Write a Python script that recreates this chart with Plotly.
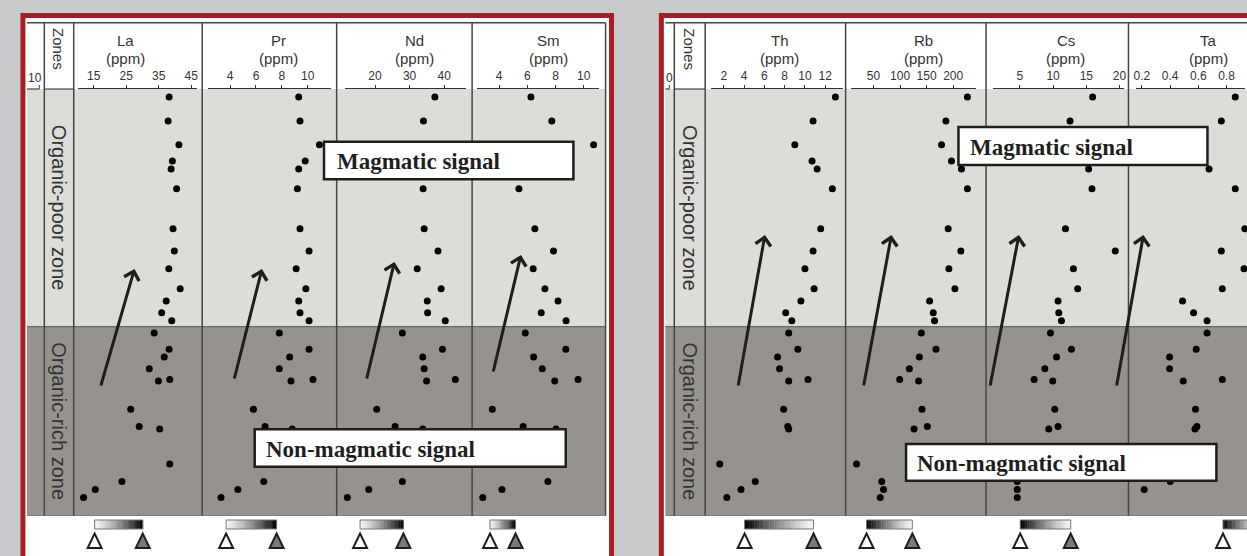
import plotly.graph_objects as go

W, H = 1247, 556

# ------------------------------------------------------------------ data
# relative sample depth (0 = top of section, 100 = base of plotted section)
depth = [1.87, 7.50, 13.05, 16.87, 18.75, 23.37, 32.76, 37.97, 42.14, 46.82,
         49.66, 52.45, 54.32, 57.18, 60.98, 62.81, 65.55, 68.43, 68.06, 75.04,
         79.10, 79.68, 87.88, 91.96, 93.88, 95.76]
zone_boundary = 55.7   # organic-poor / organic-rich boundary (relative depth)

la = [38.2, 37.9, 41.2, 39.2, 38.8, 40.5, 39.4, 39.8, 38.1, 41.6, 37.3, 35.9, 39.0,
      33.6, 38.2, 36.7, 32.1, 34.9, 38.4, 26.4, 29.0, 35.3, 38.4, 23.7, 15.5, 11.9]
pr = [9.3, 9.4, 10.9, 9.8, 9.3, 9.2, 9.4, 10.1, 9.1, 9.85, 9.3, 9.4, 10.1,
      7.8, 10.1, 8.6, 7.8, 8.7, 10.4, 5.8, 6.7, 8.8, 6.5, 6.6, 4.6, 3.3]
nd = [37.3, 34.0, 33.0, 34.0, 33.0, 33.9, 34.2, 38.2, 32.2, 39.1, 35.1, 35.2, 40.3,
      27.9, 39.5, 33.8, 34.2, 34.9, 43.2, 20.5, 25.8, 33.8, 30.0, 27.9, 18.2, 12.0]
sm = [6.26, 7.74, 10.7, 7.0, 6.8, 5.41, 6.54, 7.86, 6.42, 7.25, 8.18, 6.99, 8.75,
      5.86, 8.73, 6.45, 7.06, 7.95, 9.6, 3.53, 5.71, 8.04, 7.5, 7.46, 4.21, 2.85]
th = [13.0, 10.8, 9.0, 10.7, 11.2, 12.7, 11.55, 10.8, 10.0, 10.9, 9.6, 8.1, 8.7,
      8.4, 9.3, 7.3, 7.5, 8.4, 10.3, 7.9, 8.3, 8.4, 1.6, 5.1, 3.7, 2.3]
rb = [226.8, 186.3, 178.1, 196.8, 215.6, 226.8, 190.6, 214.4, 191.9, 203.2, 155.6, 162.5, 164.9,
      140.0, 167.6, 136.3, 117.5, 134.9, 99.3, 141.3, 151.3, 126.3, 18.1, 65.6, 68.8, 62.6]
cs = [15.95, 12.55, 14.0, 15.0, 15.35, 15.85, 11.86, 19.36, 13.06, 13.7, 10.74, 10.85, 11.26,
      9.6, 12.76, 10.51, 8.75, 9.95, 7.15, 10.25, 10.74, 9.35, 4.5, 4.6, 4.6, 4.6]
ta = [0.862, 0.763, 0.60, 0.62, 0.676, 0.862, 0.93, 0.763, 0.924, 0.770, 0.488, 0.566, 0.662,
      0.662, 0.585, 0.396, 0.396, 0.493, 0.770, 0.580, 0.590, 0.576, 0.50, 0.401, 0.216, None]

elements = ["La", "Pr", "Nd", "Sm", "Th", "Rb", "Cs", "Ta"]
values = [la, pr, nd, sm, th, rb, cs, ta]
tick_values = [[15, 25, 35, 45], [4, 6, 8, 10], [20, 30, 40], [4, 6, 8, 10],
               [2, 4, 6, 8, 10, 12], [50, 100, 150, 200], [5, 10, 15, 20], [0.2, 0.4, 0.6, 0.8]]
unit = "(ppm)"
zone_names = ["Organic-poor zone", "Organic-rich zone"]
signal_labels = ["Magmatic signal", "Non-magmatic signal"]

# ------------------------------------------------------------------ layout helpers
def px(x):
    return x / W


def py(y):
    return 1 - y / H


# axis pixel extents and value ranges (layout)
axis_px = [(75, 194.5), (205.5, 328.9), (343, 464.4), (476.3, 598.8),
           (711, 843.4), (851.3, 977), (994.4, 1126), (1138, 1247)]
axis_range = [(10.10, 46.68), (2.27, 11.76), (11.22, 46.16), (2.47, 11.11),
              (0.754, 13.75), (7.43, 243.1), (1.01, 20.75), (0.161, 0.931)]
title_x = [123.3, 276.7, 413, 547.4, 780, 924, 1067, 1210]

PLOT_TOP, PLOT_BOT = 89, 515.7
HEAD_TOP = 22.7

SANS = "Liberation Sans, Arial, sans-serif"
SERIF = "Liberation Serif, Times New Roman, serif"
LINE = "#454545"
LIGHT = "#dcdcd8"
DARK = "#96938f"
RED = "#a81d23"
TXT = "#333333"

fig = go.Figure()

for i, (name, vals) in enumerate(zip(elements, values)):
    fig.add_trace(go.Scatter(
        x=vals, y=depth, mode="markers", name=name,
        marker=dict(color="black", size=7),
        xaxis="x" if i == 0 else f"x{i + 1}", yaxis="y",
        cliponaxis=False, hoverinfo="x+y"))

layout = dict(
    width=W, height=H, margin=dict(l=0, r=0, t=0, b=0),
    paper_bgcolor="#c9cacc", plot_bgcolor="rgba(0,0,0,0)",
    showlegend=False,
    yaxis=dict(domain=[py(PLOT_BOT), py(PLOT_TOP)], range=[100, 0],
               visible=False, fixedrange=True),
)
for i in range(8):
    key = "xaxis" if i == 0 else f"xaxis{i + 1}"
    a, b = axis_px[i]
    layout[key] = dict(
        domain=[px(a), px(b)], range=list(axis_range[i]), side="top", anchor="y",
        showline=True, linecolor="#333", linewidth=1.2, ticks="outside", ticklen=3,
        tickwidth=1, tickcolor="#333", tickvals=tick_values[i],
        tickfont=dict(family=SANS, size=12, color=TXT),
        showgrid=False, zeroline=False, fixedrange=True)
fig.update_layout(**layout)

shapes = []
annotations = []


def label(text, x, y, size, angle=0, family=SANS, color=TXT, xanchor="center"):
    annotations.append(dict(text=text, x=px(x), y=py(y), xref="paper", yref="paper",
                            xanchor=xanchor, yanchor="middle", showarrow=False,
                            textangle=angle, font=dict(family=family, size=size, color=color)))


panels = [
    dict(frame=(20, 611), table=(24, 605), div=[41.5, 71, 200, 335, 471, 605],
         zones=(41.5, 71), sliver=(24, 41.5), sliver_lbl=("10", 32)),
    dict(frame=(661, 1320), table=(665, 1300), div=[674, 705, 846, 987, 1130],
         zones=(674, 705), sliver=(665, 674), sliver_lbl=("0", 669.5)),
]

for p in panels:
    f0, f1 = p["frame"]
    t0, t1 = p["table"]
    shapes.append(dict(type="rect", xref="paper", yref="paper", layer="below",
                       x0=px(f0), x1=px(f1), y0=py(15.5), y1=py(620),
                       line=dict(color=RED, width=5), fillcolor="white"))
    shapes.append(dict(type="rect", xref="paper", yref="y", layer="below",
                       x0=px(t0), x1=px(t1), y0=0, y1=zone_boundary,
                       line=dict(width=0), fillcolor=LIGHT))
    shapes.append(dict(type="rect", xref="paper", yref="y", layer="below",
                       x0=px(t0), x1=px(t1), y0=zone_boundary, y1=100,
                       line=dict(width=0), fillcolor=DARK))
    shapes.append(dict(type="line", xref="paper", yref="y", layer="below",
                       x0=px(t0), x1=px(t1), y0=zone_boundary, y1=zone_boundary,
                       line=dict(color="#6a6866", width=1.2)))
    shapes.append(dict(type="line", xref="paper", yref="y", layer="below",
                       x0=px(t0), x1=px(t1), y0=100, y1=100,
                       line=dict(color="#6a6866", width=1.5)))
    shapes.append(dict(type="line", xref="paper", yref="paper", layer="below",
                       x0=px(t0), x1=px(t1), y0=py(HEAD_TOP), y1=py(HEAD_TOP),
                       line=dict(color=LINE, width=1.5)))
    for xd in p["div"]:
        shapes.append(dict(type="line", xref="paper", yref="paper", layer="below",
                           x0=px(xd), x1=px(xd), y0=py(HEAD_TOP), y1=py(PLOT_BOT),
                           line=dict(color=LINE, width=1.5)))
    z0, z1 = p["zones"]
    shapes.append(dict(type="line", xref="paper", yref="paper", layer="below",
                       x0=px(z0), x1=px(z1), y0=py(PLOT_TOP), y1=py(PLOT_TOP),
                       line=dict(color=LINE, width=1.2)))
    s0, s1 = p["sliver"]
    shapes.append(dict(type="line", xref="paper", yref="paper", layer="below",
                       x0=px(s0), x1=px(s1 - 5), y0=py(PLOT_TOP), y1=py(PLOT_TOP),
                       line=dict(color=LINE, width=1.2)))
    shapes.append(dict(type="line", xref="paper", yref="paper", layer="below",
                       x0=px(s1 - 5), x1=px(s1 - 5), y0=py(PLOT_TOP), y1=py(PLOT_TOP - 4),
                       line=dict(color=LINE, width=1)))
    lbl, lx = p["sliver_lbl"]
    label(lbl, lx, 78, 12)
    zc = (z0 + z1) / 2
    label("Zones", zc, 49, 15, angle=90)
    label(zone_names[0], zc, (PLOT_TOP + 326.7) / 2, 20, angle=90)
    label(zone_names[1], zc, (326.7 + PLOT_BOT) / 2, 20, angle=90)

for name, tx in zip(elements, title_x):
    label(name, tx, 41, 15)
    label(unit, tx, 58, 15)

boxes = [((322.3, 572.7, 141.7, 179.3), 333, 0), ((959.3, 1209.3, 127, 165), 969, 0),
         ((252.7, 565, 429.3, 466.7), 261.7, 1), ((906.7, 1218.3, 444, 480.7), 916, 1)]
for (x0, x1, y0, y1), tx, k in boxes:
    shapes.append(dict(type="rect", xref="paper", yref="paper", layer="above",
                       x0=px(x0), x1=px(x1), y0=py(y0), y1=py(y1),
                       line=dict(color="#1e1e1e", width=2.5), fillcolor="white"))
    label("<b>" + signal_labels[k] + "</b>", tx, (y0 + y1) / 2 + 1, 23,
          family=SERIF, color="#1e1e1e", xanchor="left")

arrows = [((98, 387), (132, 269)), ((232, 380), (260, 269)), ((365, 380), (393, 262)),
          ((492, 373), (520, 255)), ((738, 387), (765, 235)), ((864, 387), (892, 235)),
          ((991, 387), (1020, 235)), ((1118, 387), (1145, 235))]
for (tx0, ty0), (hx, hy) in arrows:
    annotations.append(dict(text="", x=px(hx), y=py(hy), xref="paper", yref="paper",
                            showarrow=True, ax=tx0 - hx, ay=ty0 - hy, axref="pixel", ayref="pixel",
                            arrowhead=4, arrowsize=1.0, arrowwidth=3, arrowcolor="#1e1e1e",
                            standoff=0))

bars_left = [(92, 140.3), (224, 274.7), (358.5, 402), (489, 514.6)]
bars_right = [(744.6, 813.8), (867, 913), (1021.3, 1072), (1224.9, 1262)]
BY0, BY1 = 520, 529
N = 28
for bars, light_to_dark in ((bars_left, True), (bars_right, False)):
    for b0, b1 in bars:
        step = (b1 - b0) / N
        for j in range(N):
            t = (j + 0.5) / N
            s = t if light_to_dark else 1 - t
            g = int(round(245 * (1 - s ** 1.3)))
            shapes.append(dict(type="rect", xref="paper", yref="paper", layer="above",
                               x0=px(b0 + j * step), x1=px(b0 + (j + 1) * step + 0.4),
                               y0=py(BY1), y1=py(BY0), line=dict(width=0),
                               fillcolor=f"rgb({g},{g},{g})"))
        shapes.append(dict(type="rect", xref="paper", yref="paper", layer="above",
                           x0=px(b0), x1=px(b1), y0=py(BY1), y1=py(BY0),
                           line=dict(color="#777", width=1), fillcolor="rgba(0,0,0,0)"))
        for cx, fill in ((b0, "white"), (b1, "#7a7a7a")):
            path = (f"M {px(cx - 7)},{py(548)} L {px(cx + 7)},{py(548)} "
                    f"L {px(cx)},{py(533.5)} Z")
            shapes.append(dict(type="path", xref="paper", yref="paper", layer="above",
                               path=path, fillcolor=fill, line=dict(color="#1e1e1e", width=2)))

fig.update_layout(shapes=shapes, annotations=annotations)
fig.write_html("out.html", config={"displayModeBar": False},
               post_script="document.body.style.margin='0';")
